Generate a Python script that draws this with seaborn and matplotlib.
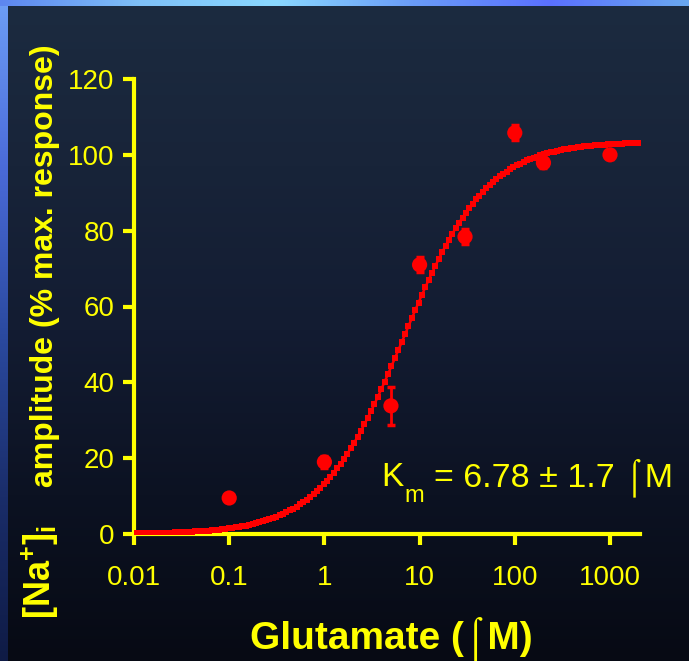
import numpy as np
import pandas as pd
import matplotlib
matplotlib.use("Agg")
import matplotlib.pyplot as plt
import seaborn as sns
from matplotlib.colors import LinearSegmentedColormap

# ---- data ----
glutamate = [0.1, 1, 5, 10, 30, 100, 200, 1000]
amplitude = [9.5, 19.0, 33.8, 71.0, 78.4, 105.8, 97.9, 100.0]
amp_err = [0.0, 1.5, 5.0, 2.0, 2.0, 2.0, 1.5, 1.0]
x_ticks = [0.01, 0.1, 1, 10, 100, 1000]
x_tick_labels = ["0.01", "0.1", "1", "10", "100", "1000"]
y_ticks = [0, 20, 40, 60, 80, 100, 120]
# Michaelis-Menten fit shown on the chart
Km = 6.78
Vmax = 103.5

YELLOW = "#ffff00"
RED = "#ff0000"

sns.set_style("ticks")
plt.rcParams["font.family"] = ["Liberation Sans", "DejaVu Sans"]
plt.rcParams["mathtext.fontset"] = "custom"
plt.rcParams["mathtext.bf"] = "Liberation Sans:bold"
plt.rcParams["mathtext.rm"] = "Liberation Sans"

W, H = 689, 661
fig = plt.figure(figsize=(W / 100, H / 100), dpi=100)

# ---- background ----
bg = fig.add_axes([0, 0, 1, 1], zorder=-10)
bg.set_axis_off()
cmap = LinearSegmentedColormap.from_list(
    "bgc", ["#1c2b40", "#182439", "#131c32", "#0c1222", "#070a14"])
grad = np.linspace(0, 1, 256).reshape(-1, 1)
bg.imshow(grad, cmap=cmap, aspect="auto", extent=[0, 1, 0, 1], origin="upper")
topc = LinearSegmentedColormap.from_list(
    "topc", ["#5d86f0", "#7fc0f8", "#8ad8ff", "#6a9cf8", "#5a70ff", "#6aa8f0"])
bg.imshow(np.linspace(0, 1, 256).reshape(1, -1), cmap=topc, aspect="auto",
          extent=[0, 1, 1 - 6 / H, 1])
leftc = LinearSegmentedColormap.from_list(
    "leftc", ["#6c9cf5", "#4a6ad8", "#2b4aa0", "#1a2d6a", "#0f1b45"])
bg.imshow(np.linspace(0, 1, 256).reshape(-1, 1), cmap=leftc, aspect="auto",
          extent=[0, 8 / W, 0, 1 - 6 / H])
bg.set_xlim(0, 1)
bg.set_ylim(0, 1)

# ---- main axes ----
left, right, top, bottom = 134, 640, 79, 534
ax = fig.add_axes([left / W, 1 - bottom / H, (right - left) / W, (bottom - top) / H])
ax.set_facecolor("none")

curve_x = np.logspace(-2, np.log10(2000), 150)
curve_df = pd.DataFrame({"x": curve_x, "y": Vmax * curve_x / (Km + curve_x)})
sns.lineplot(data=curve_df, x="x", y="y", ax=ax, color=RED, lw=1.8,
             marker="s", markersize=3.8, markeredgewidth=0, zorder=3)

pts = pd.DataFrame({"x": glutamate, "y": amplitude, "e": amp_err})
ax.errorbar(pts["x"], pts["y"], yerr=pts["e"], fmt="none", ecolor=RED,
            elinewidth=2, capsize=3, capthick=2.5, zorder=4)
sns.scatterplot(data=pts, x="x", y="y", ax=ax, color=RED, s=120,
                edgecolor="none", zorder=5)

ax.set_xscale("log")
ax.set_xlim(0.01, 10 ** (3 + 30 / 95.2))
ax.set_ylim(0, 120)
ax.set_xticks(x_ticks)
ax.set_xticklabels(x_tick_labels)
ax.xaxis.set_minor_locator(matplotlib.ticker.NullLocator())
ax.set_yticks(y_ticks)
ax.set_xlabel("")
ax.set_ylabel("")

for s in ["top", "right"]:
    ax.spines[s].set_visible(False)
for s in ["left", "bottom"]:
    ax.spines[s].set_color(YELLOW)
    ax.spines[s].set_linewidth(3)
    ax.spines[s].set_capstyle("projecting")
ax.tick_params(axis="both", colors=YELLOW, labelcolor=YELLOW, width=3,
               length=8, labelsize=20, direction="out")
ax.tick_params(axis="x", pad=14)
ax.tick_params(axis="y", pad=6)

# ---- labels ----
fig.text(391 / W, 1 - 649 / H, "Glutamate (\u2320M)", color=YELLOW,
         fontsize=28, fontweight="bold", ha="center", va="baseline")
fig.text(45 / W, 1 - 266 / H, "amplitude (% max. response)", color=YELLOW,
         fontsize=23, fontweight="bold", rotation=90, ha="center", va="center")
fig.text(40 / W, 1 - 572 / H, r"$\mathbf{[Na^{+}]_{i}}$", color=YELLOW,
         fontsize=26, rotation=90, ha="center", va="center")

fig.text(381 / W, 1 - 486 / H, "K", color=YELLOW, fontsize=24,
         ha="left", va="baseline")
fig.text(404 / W, 1 - 502 / H, "m", color=YELLOW, fontsize=17,
         ha="left", va="baseline")
fig.text(434 / W, 1 - 486 / H, "= 6.78 \u00b1 1.7 \u2320M", color=YELLOW,
         fontsize=24.5, ha="left", va="baseline")

fig.savefig("out.png", dpi=100)
